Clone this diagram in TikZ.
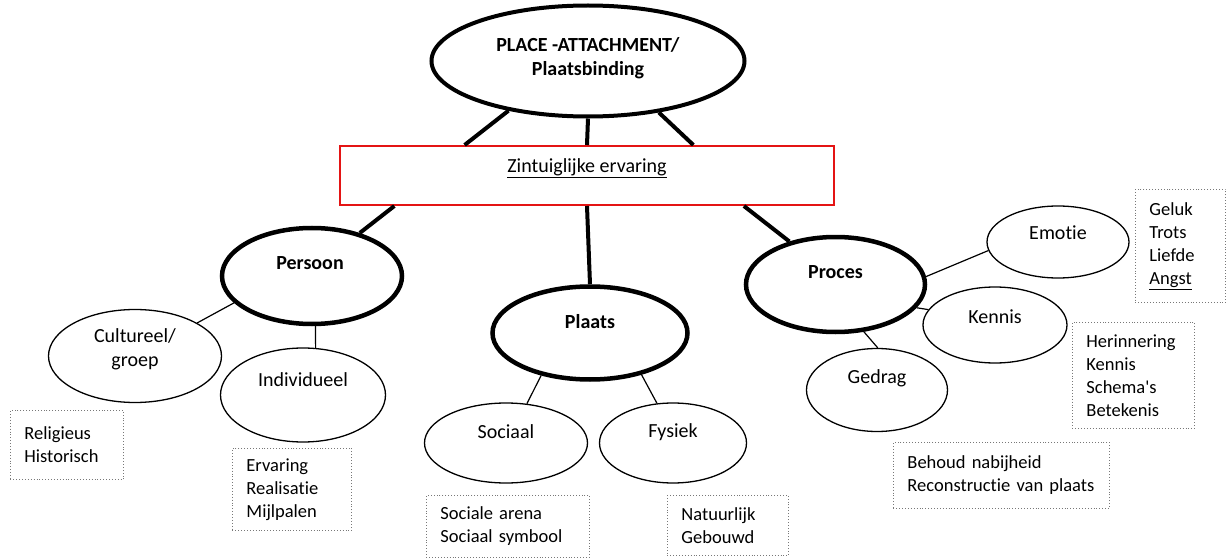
\documentclass[tikz,border=0pt]{standalone}
\usepackage{fontspec}
\setmainfont{Carlito}[Ligatures=NoCommon]
\definecolor{kader}{RGB}{120,120,120}
\definecolor{rood}{RGB}{228,20,20}
\usetikzlibrary{
  shapes.geometric    % ellipse nodes
}
\tikzset{
  every node/.style = {font=\fontsize{20}{24}\selectfont},
  hoofd/.style = {ellipse, draw, line width=4.5pt},
  sub/.style = {ellipse, draw, line width=1.3pt},
  zintuig/.style = {rectangle, draw=rood, line width=2pt,
    minimum width=494pt, minimum height=59pt},
  kader/.style = {rectangle, draw=kader, dotted, line width=0.9pt,
    anchor=north west, align=left, inner xsep=14pt,
    font=\fontsize{18.5}{23}\selectfont},
  dik/.style = {line width=4pt},
  dun/.style = {line width=1.2pt}
}

\begin{document}
\begin{tikzpicture}[x=1pt, y=-1pt]
  \useasboundingbox (0,0) rectangle (1227,559);

  %% nodes
  \node[hoofd, line width=4pt, minimum width=313pt, minimum height=111pt,
    label={[yshift=3pt, align=center]center:\textbf{PLACE -ATTACHMENT/}\\\textbf{Plaatsbinding}}]
    (PA) at (588,61) {};

  \node[zintuig, label={[yshift=7pt]center:\underline{Zintuiglijke ervaring}}] (ZE) at (587,175.5) {};

  \node[hoofd, minimum width=180pt, minimum height=96pt,
    label={[xshift=-2pt, yshift=13pt]center:\textbf{Persoon}}] (PE) at (312,276) {};
  \node[hoofd, minimum width=195pt, minimum height=93pt,
    label={[yshift=11pt]center:\textbf{Plaats}}] (PL) at (590,333) {};
  \node[hoofd, minimum width=179pt, minimum height=95pt,
    label={[yshift=12pt]center:\textbf{Proces}}] (PR) at (835.5,284.5) {};

  \node[sub, minimum width=173pt, minimum height=93pt,
    label={[yshift=7pt, align=center]center:Cultureel/\\groep}] (CG) at (135,356) {};
  \node[sub, minimum width=165pt, minimum height=94pt,
    label={[yshift=15pt]center:Individueel}] (IN) at (303,395) {};
  \node[sub, minimum width=163pt, minimum height=80pt,
    label={[yshift=11pt]center:Sociaal}] (SO) at (506,443) {};
  \node[sub, minimum width=147pt, minimum height=80pt,
    label={[yshift=11pt]center:Fysiek}] (FY) at (673,443) {};
  \node[sub, minimum width=142pt, minimum height=72pt,
    label={[yshift=9pt]center:Emotie}] (EM) at (1058,242) {};
  \node[sub, minimum width=144pt, minimum height=76pt,
    label={[yshift=8pt]center:Kennis}] (KE) at (995,325) {};
  \node[sub, minimum width=141pt, minimum height=83pt,
    label={[yshift=12pt]center:Gedrag}] (GE) at (877,390) {};

  \node[kader, minimum width=113pt, minimum height=69pt, text width=85pt] (RH) at (10,410)
    {Religieus\\Historisch};
  \node[kader, minimum width=119pt, minimum height=82pt, text width=91pt] (EV) at (232,448)
    {Ervaring\\Realisatie\\Mijlpalen};
  \node[kader, minimum width=163pt, minimum height=62pt, text width=135pt] (SA) at (426,495)
    {Sociale arena\\Sociaal symbool};
  \node[kader, minimum width=121pt, minimum height=60pt, text width=93pt] (NG) at (667,495)
    {Natuurlijk\\Gebouwd};
  \node[kader, minimum width=90pt, minimum height=113pt, text width=62pt] (GT) at (1135,189)
    {Geluk\\Trots\\Liefde\\\underline{Angst}};
  \node[kader, minimum width=122pt, minimum height=106pt, text width=94pt] (HK) at (1072,322)
    {Herinnering\\Kennis\\Schema\textquotesingle s\\Betekenis};
  \node[kader, minimum width=216pt, minimum height=66pt, text width=188pt] (BR) at (893,442)
    {Behoud nabijheid\\Reconstructie van plaats};

  %% lijnen
  \draw[dik] (PA.212) -- (ZE.166);
  \draw[dik] (PA.south) -- (ZE.north);
  \draw[dik] (PA.324) -- (ZE.16);

  \draw[dik] (ZE.189) -- (PE.42);
  \draw[dik] (ZE.south) -- (PL.north);
  \draw[dik] (ZE.349) -- (PR.137);

  \draw[dun] (PE.199) -- (CG.28);
  \draw[dun] (PE.274) -- (IN.75);
  \draw[dun] (PL.221) -- (SO.62);
  \draw[dun] (PL.321) -- (FY.112);
  \draw[dun] (PR.5) -- (EM.187);
  \draw[dun] (PR.344) -- (KE.167);
  \draw[dun] (PR.301) -- (GE.89);

\end{tikzpicture}
\end{document}
